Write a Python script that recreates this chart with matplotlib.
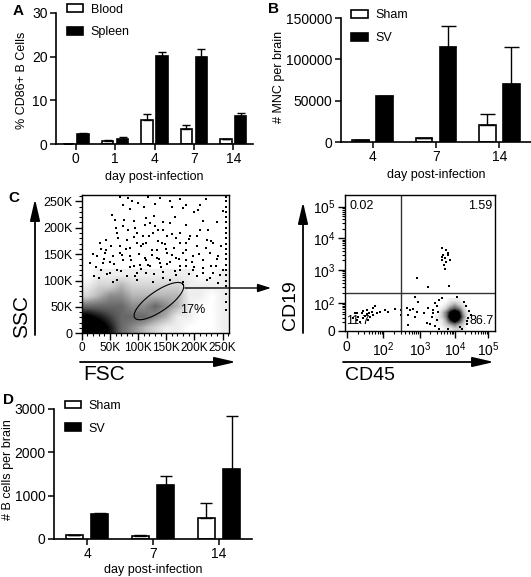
import numpy as np
import matplotlib
matplotlib.use("Agg")
import matplotlib.pyplot as plt
from matplotlib.patches import Patch, FancyArrowPatch

plt.rcParams['font.family'] = ['Liberation Sans', 'DejaVu Sans']
plt.rcParams['mathtext.fontset'] = 'custom'
plt.rcParams['mathtext.rm'] = 'Liberation Sans'

# ---- panel A: % CD86+ B cells
days_a = ['0', '1', '4', '7', '14']
blood = [0, 0.6, 5.5, 3.4, 1.1]
blood_top = [0, 0.9, 6.9, 4.3, 1.1]
spleen = [2.4, 1.1, 20.1, 20.0, 6.3]
spleen_top = [2.5, 1.5, 21.0, 21.7, 7.0]

# ---- panel B: MNC per brain
days_bd = ['4', '7', '14']
mnc_sham = [2800, 4800, 21000]
mnc_sham_top = [2800, 4800, 34200]
mnc_sv = [55200, 115000, 70200]
mnc_sv_top = [56000, 140700, 114500]

# ---- panel D: B cells per brain
bc_sham = [100, 77, 476]
bc_sham_top = [100, 90, 830]
bc_sv = [577, 1246, 1615]
bc_sv_top = [590, 1460, 2830]

# ---- panel C left: FSC/SSC (K units), density of the dense part, 20K bins
fsc_bins_x = [0, 260]
fsc_bins_y = [0, 120]
fsc_density = [
    [9, 9, 7, 5, 4, 3, 2, 1, 1, 0, 0, 0, 1],
    [8, 7, 6, 5, 5, 5, 4, 3, 1, 1, 0, 0, 1],
    [5, 5, 5, 5, 4, 4, 5, 4, 3, 1, 0, 0, 1],
    [2, 3, 4, 4, 3, 3, 3, 3, 3, 1, 1, 0, 1],
    [1, 2, 2, 3, 2, 2, 2, 2, 2, 1, 1, 1, 1],
    [0, 1, 1, 1, 1, 1, 1, 1, 1, 1, 0, 0, 1],
]
fsc_sparse = [68, 83, 89, 74, 100, 139, 157, 180, 186, 210, 207, 251, 53, 59, 92,
              115, 121, 130, 145, 157, 174, 192, 210, 222, 233, 98, 80, 68, 41, 27,
              15, 50, 106, 124, 142, 163, 180, 198, 216, 239, 251, 186, 157, 133, 115,
              86, 62, 35, 21, 50, 98, 145, 168, 204, 228, 242, 157, 127, 98,
              44, 62, 74, 83, 109, 127, 136, 151, 168, 186, 204, 228, 242, 86, 98,
              115, 133, 151, 168, 186, 216, 121, 139, 103, 74, 56, 38, 32, 44, 68,
              92, 174, 198, 233, 222, 180, 145, 115, 80, 62,
              30, 45, 55, 70, 85, 95, 105, 118, 128, 140, 152, 165, 175, 190, 200,
              215, 230, 245, 25, 40, 58, 72, 88, 102, 112, 125, 138, 150, 160, 172,
              185, 195, 208, 220, 240, 35, 52, 65, 78, 92, 108, 120, 135, 148, 160,
              175, 190, 205, 225, 60, 75, 95, 112, 128, 145, 165, 185, 200, 215, 240,
              85, 110, 130, 160, 175, 220, 118, 230, 248, 20]
ssc_sparse = [258, 257, 250, 244, 247, 256, 250, 238, 244, 244, 234, 231, 225, 215, 212,
              219, 209, 203, 196, 209, 190, 184, 196, 177, 171, 190, 177, 165, 152, 146,
              133, 136, 165, 158, 171, 162, 152, 146, 139, 127, 120, 127, 136, 143, 139,
              146, 120, 120, 108, 114, 114, 117, 111, 108, 105, 95, 101, 98, 101,
              177, 190, 203, 196, 184, 190, 196, 184, 180, 171, 165, 152, 146, 162, 171,
              171, 158, 152, 143, 139, 123, 127, 133, 130, 139, 146, 133, 171, 158, 152,
              127, 120, 120, 114, 101, 98, 105, 114, 108, 101,
              105, 112, 98, 118, 125, 108, 122, 130, 112, 125, 132, 118, 128, 112, 125,
              115, 128, 110, 125, 140, 132, 148, 138, 150, 142, 148, 140, 160, 148, 140,
              158, 135, 150, 162, 140, 160, 165, 180, 160, 182, 170, 185, 175, 170, 188,
              172, 178, 185, 195, 200, 215, 200, 205, 222, 210, 220, 205, 230, 212, 210,
              235, 240, 245, 240, 255, 255, 258, 175, 165, 150]
sat_fsc = [257] * 21
sat_ssc = [45, 60, 75, 90, 100, 110, 120, 130, 140, 150, 160, 170, 180, 190, 200,
           210, 220, 230, 240, 250, 258]

# ---- panel C right: CD45/CD19 (display units of the biexponential axes)
cd_ticks_x = [0.05, 1.07, 2.08, 3.06, 3.98]
cd_ticks_y = [0, 0.85, 1.88, 2.86, 3.84]
cd_tick_labels = ['0', '$10^2$', '$10^3$', '$10^4$', '$10^5$']
cd_density = [
    [0, 0, 1, 1, 2, 2, 1, 0],
    [0, 1, 2, 3, 4, 3, 2, 0],
    [1, 1, 3, 6, 8, 6, 3, 1],
    [1, 2, 4, 8, 9, 8, 4, 1],
    [0, 2, 4, 7, 9, 7, 3, 1],
    [0, 1, 2, 4, 5, 4, 2, 0],
    [0, 0, 1, 2, 3, 2, 1, 0],
    [0, 0, 0, 1, 1, 1, 0, 0],
]
cd45_pts = [2.69, 2.82, 2.73, 2.87, 2.78, 2.92, 2.69, 2.82, 2.75, 2.78, 2.87, 2.71,
            2.01, 2.31, 2.90,
            1.94, 2.04, 1.71, 1.81, 1.90, 1.99, 1.76, 1.94, 2.19, 2.27, 2.41, 1.76,
            2.55, 2.45, 2.59, 1.55, 1.55,
            0.23, 0.32, 0.37, 0.46, 0.51, 0.56, 0.60, 0.65, 0.69, 0.74, 0.79, 0.83,
            0.42, 0.28, 0.88, 0.97, 1.11, 1.20, 1.39, 0.60, 0.49, 0.34, 0.68, 0.77,
            2.30, 2.35, 3.40, 3.45, 2.50, 3.30, 3.20, 2.60,
            2.55, 2.62, 3.35, 3.42, 2.50, 3.25, 2.45, 3.50, 2.70, 3.10, 2.85, 3.38]
cd19_pts = [2.55, 2.50, 2.34, 2.34, 2.24, 2.19, 2.19, 2.14, 2.03, 1.90, 2.40, 2.29,
            1.62, 1.34, 1.39,
            1.03, 0.90, 0.69, 0.64, 0.66, 0.59, 0.48, 0.43, 0.54, 0.23, 0.43, 0.18,
            0.33, 0.54, 0.59, 0.64, 0.48,
            0.38, 0.54, 0.43, 0.54, 0.38, 0.45, 0.52, 0.33, 0.43, 0.59, 0.69, 0.75,
            0.28, 0.54, 0.54, 0.59, 0.64, 0.59, 0.66, 0.64, 0.62, 0.33, 0.56, 0.48,
            0.70, 0.20, 0.30, 0.60, 0.85, 0.90, 0.10, 0.05,
            0.75, 0.95, 0.75, 0.40, 0.15, 0.05, 0.65, 0.50, 1.00, 1.05, 0.05, 0.20]
quad_vals = ['0.02', '1.59', '11.7', '86.7']

W, H = 531, 577
fig = plt.figure(figsize=(W / 100, H / 100), dpi=100)


def px_axes(l, t, r, b):
    return fig.add_axes([l / W, 1 - b / H, (r - l) / W, (b - t) / H])


def ftext(x, y, s, **kw):
    fig.text(x / W, 1 - y / H, s, **kw)


def arrow(x0, y0, x1, y1, hl=1.3, hw=0.3, lw=1.3):
    fig.add_artist(FancyArrowPatch((x0 / W, 1 - y0 / H), (x1 / W, 1 - y1 / H),
                                   transform=fig.transFigure,
                                   arrowstyle='-|>,head_length=%s,head_width=%s' % (hl, hw),
                                   mutation_scale=10, lw=lw, color='black',
                                   shrinkA=0, shrinkB=0))


def bar_panel(ax, labels, v1, t1, v2, t2, width, off, cap, yticks, names):
    x = np.arange(len(labels))
    e1 = np.array(t1) - np.array(v1)
    e2 = np.array(t2) - np.array(v2)
    z = np.zeros(len(labels))
    ax.bar(x - off, v1, width, color='white', edgecolor='black', lw=1.2, label=names[0])
    ax.bar(x + off, v2, width, color='black', edgecolor='black', lw=1.2, label=names[1])
    ax.errorbar(x - off, v1, yerr=[z, e1], fmt='none', ecolor='black', elinewidth=1, capsize=cap, capthick=1)
    ax.errorbar(x + off, v2, yerr=[z, e2], fmt='none', ecolor='black', elinewidth=1, capsize=cap, capthick=1)
    ax.set_xlim(-0.5, len(labels) - 0.5)
    ax.set_ylim(0, yticks[-1])
    ax.set_yticks(yticks)
    ax.set_xticks(x)
    ax.set_xticklabels(labels)
    for s in ['top', 'right']:
        ax.spines[s].set_visible(False)
    for s in ['left', 'bottom']:
        ax.spines[s].set_linewidth(1.2)
    ax.tick_params(direction='out', length=4, width=1.1, labelsize=10, pad=2)
    handles = [Patch(facecolor='white', edgecolor='black', lw=1.2),
               Patch(facecolor='black', edgecolor='black', lw=1.2)]
    ax.legend(handles, names, loc='upper left', bbox_to_anchor=(0.055, 1.07), frameon=False,
              fontsize=9, handlelength=1.3, handleheight=0.6, labelspacing=0.85,
              handletextpad=0.6, borderaxespad=0, borderpad=0)


# A
axA = px_axes(56, 13, 253, 144)
bar_panel(axA, days_a, blood, blood_top, spleen, spleen_top, 0.29, 0.19, 2.9,
          [0, 10, 20, 30], ['Blood', 'Spleen'])
ftext(13, 11, 'A', fontsize=11, fontweight='bold', va='center')
ftext(22, 80, '% CD86+ B Cells', rotation=90, ha='center', va='center', fontsize=9)
ftext(154, 177, 'day post-infection', ha='center', va='center', fontsize=9)

# B
axB = px_axes(341, 18, 531, 142)
bar_panel(axB, days_bd, mnc_sham, mnc_sham_top, mnc_sv, mnc_sv_top, 0.26, 0.19, 5.4,
          [0, 50000, 100000, 150000], ['Sham', 'SV'])
ftext(268, 9, 'B', fontsize=11, fontweight='bold', va='center')
ftext(279, 77, '# MNC per brain', rotation=90, ha='center', va='center', fontsize=9)
ftext(436, 175, 'day post-infection', ha='center', va='center', fontsize=9)

# D
axD = px_axes(54, 409, 252, 539)
bar_panel(axD, days_bd, bc_sham, bc_sham_top, bc_sv, bc_sv_top, 0.27, 0.19, 4,
          [0, 1000, 2000, 3000], ['Sham', 'SV'])
ftext(3, 400, 'D', fontsize=11, fontweight='bold', va='center')
ftext(8, 470, '# B cells per brain', rotation=90, ha='center', va='center', fontsize=9)
ftext(153, 570, 'day post-infection', ha='center', va='center', fontsize=9)

# C left: FSC / SSC
axC = px_axes(81.7, 195, 229.3, 333.3)
axC.imshow(fsc_density, extent=(fsc_bins_x[0], fsc_bins_x[1], fsc_bins_y[0], fsc_bins_y[1]),
           origin='lower', cmap='Greys', vmin=0, vmax=7.5, interpolation='bilinear', aspect='auto')
axC.scatter(fsc_sparse, ssc_sparse, s=1.3, marker='s', color='black', linewidths=0)
axC.scatter(sat_fsc, sat_ssc, s=1.3, marker='s', color='black', linewidths=0)
t = np.linspace(0, 2 * np.pi, 120)
axC.plot(137 + 42.8 * np.cos(t) - 10.1 * np.sin(t), 61 + 31.7 * np.cos(t) + 15.6 * np.sin(t),
         color='black', lw=0.8)
axC.text(174, 44, '17%', fontsize=9, va='center')
axC.set_xlim(0, 262)
axC.set_ylim(0, 262)
k_ticks = [0, 50, 100, 150, 200, 250]
k_labels = ['0', '50K', '100K', '150K', '200K', '250K']
axC.set_xticks(k_ticks)
axC.set_xticklabels(k_labels)
axC.set_yticks(k_ticks)
axC.set_yticklabels(k_labels)
axC.set_xticks(np.arange(0, 261, 10), minor=True)
axC.set_yticks(np.arange(0, 261, 10), minor=True)
axC.tick_params(which='major', direction='out', length=5, width=1, labelsize=9, pad=1.5)
axC.tick_params(axis='x', which='major', labelsize=8.5)
axC.tick_params(which='minor', direction='out', length=2.5, width=0.8)
for s in axC.spines.values():
    s.set_linewidth(1)
ftext(8, 198, 'C', fontsize=11, fontweight='bold', va='center')
arrow(35, 335, 35, 199)
arrow(80, 362, 236, 362)
ftext(22, 317, 'SSC', rotation=90, ha='center', va='center', fontsize=15)
ftext(83, 375, 'FSC', ha='left', va='center', fontsize=15)
arrow(185, 288, 271, 288, hl=0.8, hw=0.25, lw=1)

# C right: CD45 / CD19
axQ = px_axes(345, 195, 495, 330.7)
axQ.imshow(cd_density, extent=(2.5, 3.45, 0, 1.0), origin='lower', cmap='Greys',
           vmin=0, vmax=7, interpolation='bilinear', aspect='auto')
axQ.scatter(cd45_pts, cd19_pts, s=1.3, marker='s', color='black', linewidths=0)
axQ.axvline(1.56, color='#333333', lw=1)
axQ.axhline(1.18, color='#333333', lw=1)
axQ.set_xlim(0, 4.17)
axQ.set_ylim(0, 4.2)
axQ.set_xticks(cd_ticks_x)
axQ.set_xticklabels(cd_tick_labels)
axQ.set_yticks(cd_ticks_y)
axQ.set_yticklabels(cd_tick_labels)
mx, my = [], []
for ticks, out in [(cd_ticks_x, mx), (cd_ticks_y, my)]:
    for i in range(len(ticks) - 1):
        for k in range(2, 10):
            out.append(ticks[i] + np.log10(k) * (ticks[i + 1] - ticks[i]))
axQ.set_xticks(mx, minor=True)
axQ.set_yticks(my, minor=True)
axQ.tick_params(which='major', direction='out', length=5, width=1, labelsize=10, pad=2)
axQ.tick_params(which='minor', direction='out', length=2.5, width=0.8)
for s in axQ.spines.values():
    s.set_linewidth(1)
axQ.text(0.03, 0.965, quad_vals[0], transform=axQ.transAxes, fontsize=9, va='top')
axQ.text(0.985, 0.965, quad_vals[1], transform=axQ.transAxes, fontsize=9, va='top', ha='right')
axQ.text(0.01, 0.03, quad_vals[2], transform=axQ.transAxes, fontsize=9, va='bottom')
axQ.text(0.99, 0.03, quad_vals[3], transform=axQ.transAxes, fontsize=9, va='bottom', ha='right')
arrow(303, 333, 303, 202)
arrow(343, 362, 494, 362)
ftext(290.5, 305, 'CD19', rotation=90, ha='center', va='center', fontsize=14)
ftext(345, 375, 'CD45', ha='left', va='center', fontsize=14)

fig.savefig('out.png', dpi=100)
